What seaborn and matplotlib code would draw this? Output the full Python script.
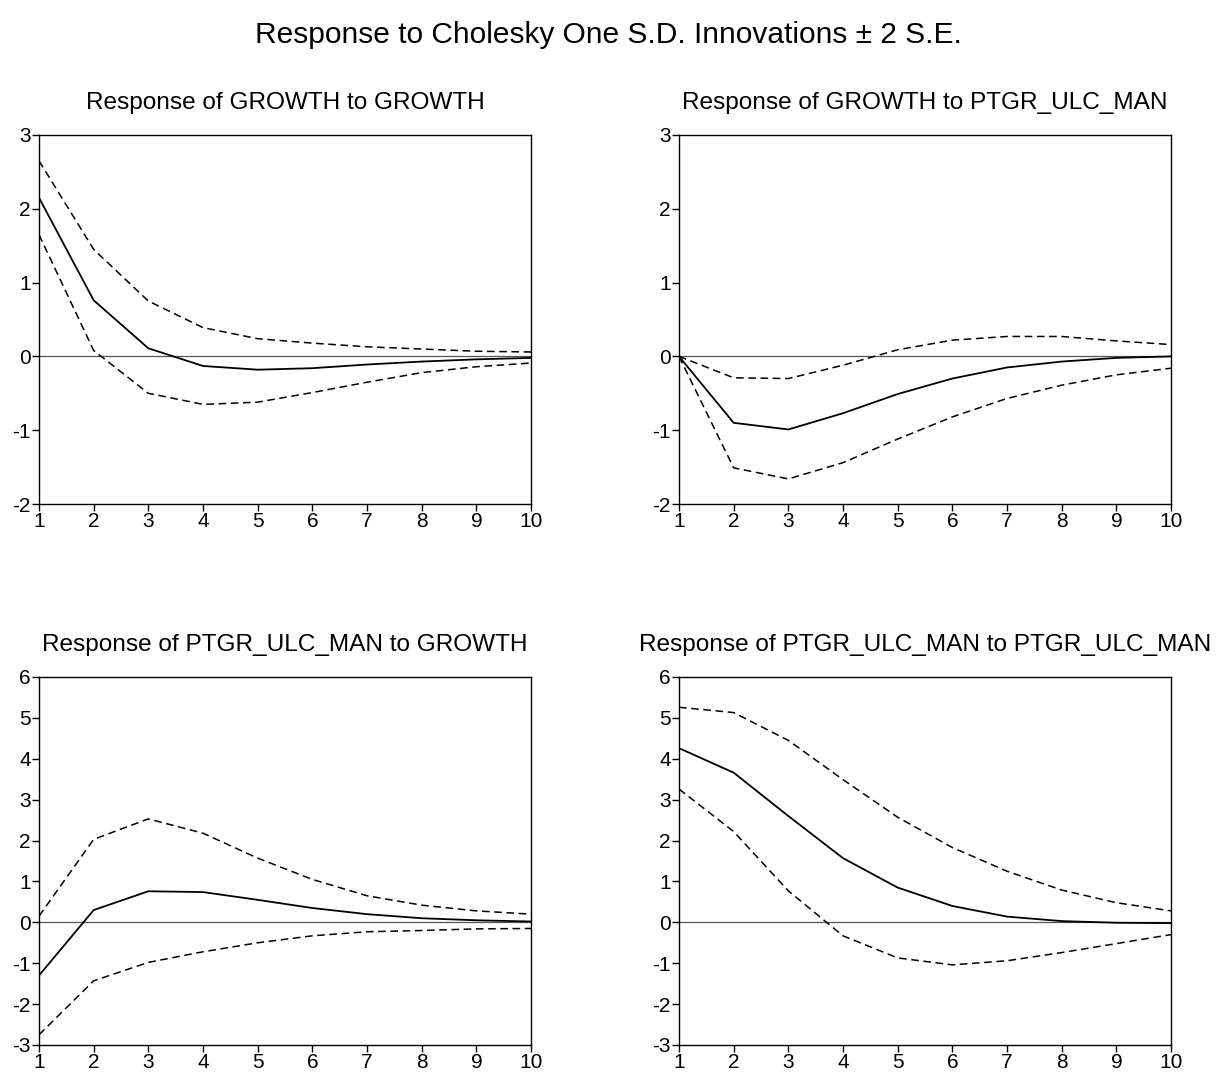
import matplotlib
matplotlib.use("Agg")
import matplotlib.pyplot as plt
import numpy as np
import pandas as pd
import seaborn as sns

# Forecast horizon (periods)
periods = [1, 2, 3, 4, 5, 6, 7, 8, 9, 10]

# Response of GROWTH to GROWTH
g_g_resp = [2.15, 0.76, 0.11, -0.13, -0.18, -0.16, -0.11, -0.07, -0.04, -0.02]
g_g_upper = [2.65, 1.45, 0.75, 0.39, 0.24, 0.18, 0.13, 0.10, 0.07, 0.06]
g_g_lower = [1.65, 0.08, -0.50, -0.65, -0.62, -0.49, -0.35, -0.22, -0.14, -0.09]

# Response of GROWTH to PTGR_ULC_MAN
g_p_resp = [0.0, -0.90, -0.99, -0.77, -0.51, -0.30, -0.15, -0.07, -0.02, 0.0]
g_p_upper = [0.0, -0.29, -0.30, -0.12, 0.09, 0.22, 0.27, 0.27, 0.21, 0.16]
g_p_lower = [0.0, -1.51, -1.66, -1.44, -1.12, -0.82, -0.57, -0.39, -0.25, -0.16]

# Response of PTGR_ULC_MAN to GROWTH
p_g_resp = [-1.30, 0.30, 0.76, 0.74, 0.55, 0.35, 0.20, 0.10, 0.05, 0.02]
p_g_upper = [0.15, 2.03, 2.53, 2.18, 1.57, 1.05, 0.65, 0.42, 0.28, 0.20]
p_g_lower = [-2.75, -1.43, -0.98, -0.72, -0.50, -0.33, -0.23, -0.20, -0.16, -0.15]

# Response of PTGR_ULC_MAN to PTGR_ULC_MAN
p_p_resp = [4.26, 3.66, 2.60, 1.57, 0.85, 0.40, 0.14, 0.03, -0.01, -0.02]
p_p_upper = [5.26, 5.13, 4.45, 3.49, 2.57, 1.83, 1.25, 0.79, 0.48, 0.28]
p_p_lower = [3.26, 2.22, 0.77, -0.33, -0.87, -1.04, -0.94, -0.74, -0.52, -0.30]

panel_titles = [
    "Response of GROWTH to GROWTH",
    "Response of GROWTH to PTGR_ULC_MAN",
    "Response of PTGR_ULC_MAN to GROWTH",
    "Response of PTGR_ULC_MAN to PTGR_ULC_MAN",
]
suptitle = "Response to Cholesky One S.D. Innovations \u00b1 2 S.E."

y_ranges = [(-2, 3), (-2, 3), (-3, 6), (-3, 6)]
panel_data = [
    (g_g_resp, g_g_upper, g_g_lower),
    (g_p_resp, g_p_upper, g_p_lower),
    (p_g_resp, p_g_upper, p_g_lower),
    (p_p_resp, p_p_upper, p_p_lower),
]

sns.set_theme(style="white")
plt.rcParams["font.family"] = ["Liberation Sans", "DejaVu Sans"]
plt.rcParams["axes.edgecolor"] = "black"
plt.rcParams["axes.linewidth"] = 1.0
plt.rcParams["text.color"] = "black"
plt.rcParams["xtick.color"] = "black"
plt.rcParams["ytick.color"] = "black"
plt.rcParams["axes.labelcolor"] = "black"
plt.rcParams["axes.titlecolor"] = "black"

fig = plt.figure(figsize=(12.16, 10.73), dpi=100)

W, H = 1216, 1073
boxes = [
    (39, 135, 531, 504),
    (679, 135, 1171, 504),
    (39, 677, 531, 1045),
    (679, 677, 1171, 1045),
]

for (x0, y0, x1, y1), title, (resp, up, lo), (ymin, ymax) in zip(
        boxes, panel_titles, panel_data, y_ranges):
    ax = fig.add_axes([x0 / W, 1 - y1 / H, (x1 - x0) / W, (y1 - y0) / H])
    df = pd.DataFrame({"period": periods, "resp": resp, "upper": up, "lower": lo})
    ax.axhline(0, color="#555555", lw=0.9, zorder=1)
    sns.lineplot(data=df, x="period", y="upper", ax=ax, color="black",
                 lw=1.1, linestyle=(0, (5, 3)))
    sns.lineplot(data=df, x="period", y="lower", ax=ax, color="black",
                 lw=1.1, linestyle=(0, (5, 3)))
    sns.lineplot(data=df, x="period", y="resp", ax=ax, color="black", lw=1.3)
    ax.set_xlim(1, 10)
    ax.set_ylim(ymin, ymax)
    ax.set_xticks(periods)
    ax.set_yticks(range(ymin, ymax + 1))
    ax.set_yticklabels([str(v) for v in range(ymin, ymax + 1)])
    ax.set_xlabel("")
    ax.set_ylabel("")
    ax.tick_params(axis="both", which="both", direction="out", length=5,
                   width=1, color="black", labelsize=15, pad=1,
                   left=True, bottom=True, top=False, right=False)
    for s in ax.spines.values():
        s.set_color("black")
        s.set_linewidth(1.0)
    ax.set_title(title, fontsize=17.6, pad=19)

fig.text(0.5, 1 - 35 / H, suptitle, ha="center", va="center", fontsize=21.5)

fig.savefig("out.png", dpi=100, facecolor="white")
